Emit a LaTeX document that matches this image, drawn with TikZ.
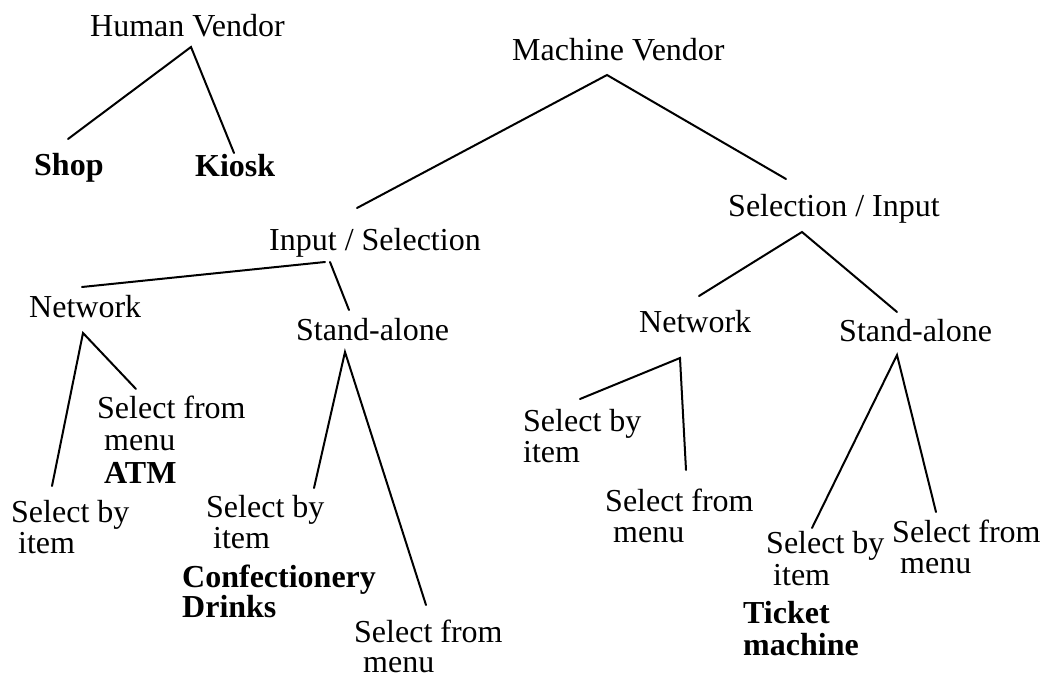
\documentclass[tikz,border=0pt]{standalone}
\usepackage{fontspec}
\setmainfont{Liberation Serif}
\usetikzlibrary{calc}
\tikzset{
  lbl/.style={anchor=base west, inner sep=0pt, font=\fontsize{32}{33}\selectfont},
  blbl/.style={lbl, font=\fontsize{32}{33}\selectfont\bfseries},
  edge/.style={line width=2pt, line cap=round}
}
\begin{document}
\begin{tikzpicture}[x=1pt,y=-1pt]
\useasboundingbox (0,0) rectangle (1049,679);
% labels
\node[lbl] (hv) at (90,37) {Human Vendor};
\node[blbl] (shop) at (34,176) {Shop};
\node[blbl] (kiosk) at (195,177) {Kiosk};
\node[lbl] (mv) at (512,61) {Machine Vendor};
\node[lbl] (is) at (269,251) {Input / Selection};
\node[lbl] (si) at (728,216) {Selection / Input};
\node[lbl] (netL) at (29,317) {Network};
\node[lbl] (saL) at (296,340) {Stand-alone};
\node[lbl] (netR) at (639,332) {Network};
\node[lbl] (saR) at (839,341) {Stand-alone};
\node[lbl] (sfmA1) at (97,418) {Select from};
\node[lbl] (sfmA2) at (104,450) {menu};
\node[blbl] (atm) at (104,483) {ATM};
\node[lbl] (sbiA1) at (11,522) {Select by};
\node[lbl] (sbiA2) at (18,553) {item};
\node[lbl] (sbiB1) at (206,517) {Select by};
\node[lbl] (sbiB2) at (213,548) {item};
\node[blbl] (conf) at (182,587) {Confectionery};
\node[blbl] (drinks) at (182,617) {Drinks};
\node[lbl] (sfmB1) at (354,642) {Select from};
\node[lbl] (sfmB2) at (363,672) {menu};
\node[lbl] (sbiC1) at (523,431) {Select by};
\node[lbl] (sbiC2) at (523,462) {item};
\node[lbl] (sfmC1) at (605,511) {Select from};
\node[lbl] (sfmC2) at (613,542) {menu};
\node[lbl] (sbiD1) at (766,553) {Select by};
\node[lbl] (sbiD2) at (773,585) {item};
\node[lbl] (sfmD1) at (892,542) {Select from};
\node[lbl] (sfmD2) at (900,573) {menu};
\node[blbl] (ticket) at (743,623) {Ticket};
\node[blbl] (machine) at (743,655) {machine};
% connectors
\draw[edge] ($(shop.base west)+(34,-37)$) -- ($(hv.base west)+(101,10)$) -- ($(kiosk.base west)+(39,-24)$);
\draw[edge] ($(is.base west)+(88,-43)$) -- ($(mv.base west)+(95,14)$) -- ($(si.base west)+(58,-37)$);
\draw[edge] ($(netR.base west)+(60,-36)$) -- ($(si.base west)+(74,16)$) -- ($(saR.base west)+(58,-29)$);
\draw[edge] ($(netL.base west)+(53,-30)$) -- ($(is.base west)+(56,11)$);
\draw[edge] ($(is.base west)+(61,11)$) -- ($(saL.base west)+(53,-30)$);
\draw[edge] ($(sbiA1.base west)+(41,-36)$) -- ($(netL.base west)+(54,16)$) -- ($(sfmA1.base west)+(39,-29)$);
\draw[edge] ($(sbiB1.base west)+(108,-29)$) -- ($(saL.base west)+(49,12)$) -- ($(sfmB1.base west)+(72,-37)$);
\draw[edge] ($(sbiC1.base west)+(57,-32)$) -- ($(netR.base west)+(41,26)$) -- ($(sfmC1.base west)+(81,-41)$);
\draw[edge] ($(sbiD1.base west)+(46,-25)$) -- ($(saR.base west)+(58,14)$) -- ($(sfmD1.base west)+(44,-30)$);
\end{tikzpicture}
\end{document}
